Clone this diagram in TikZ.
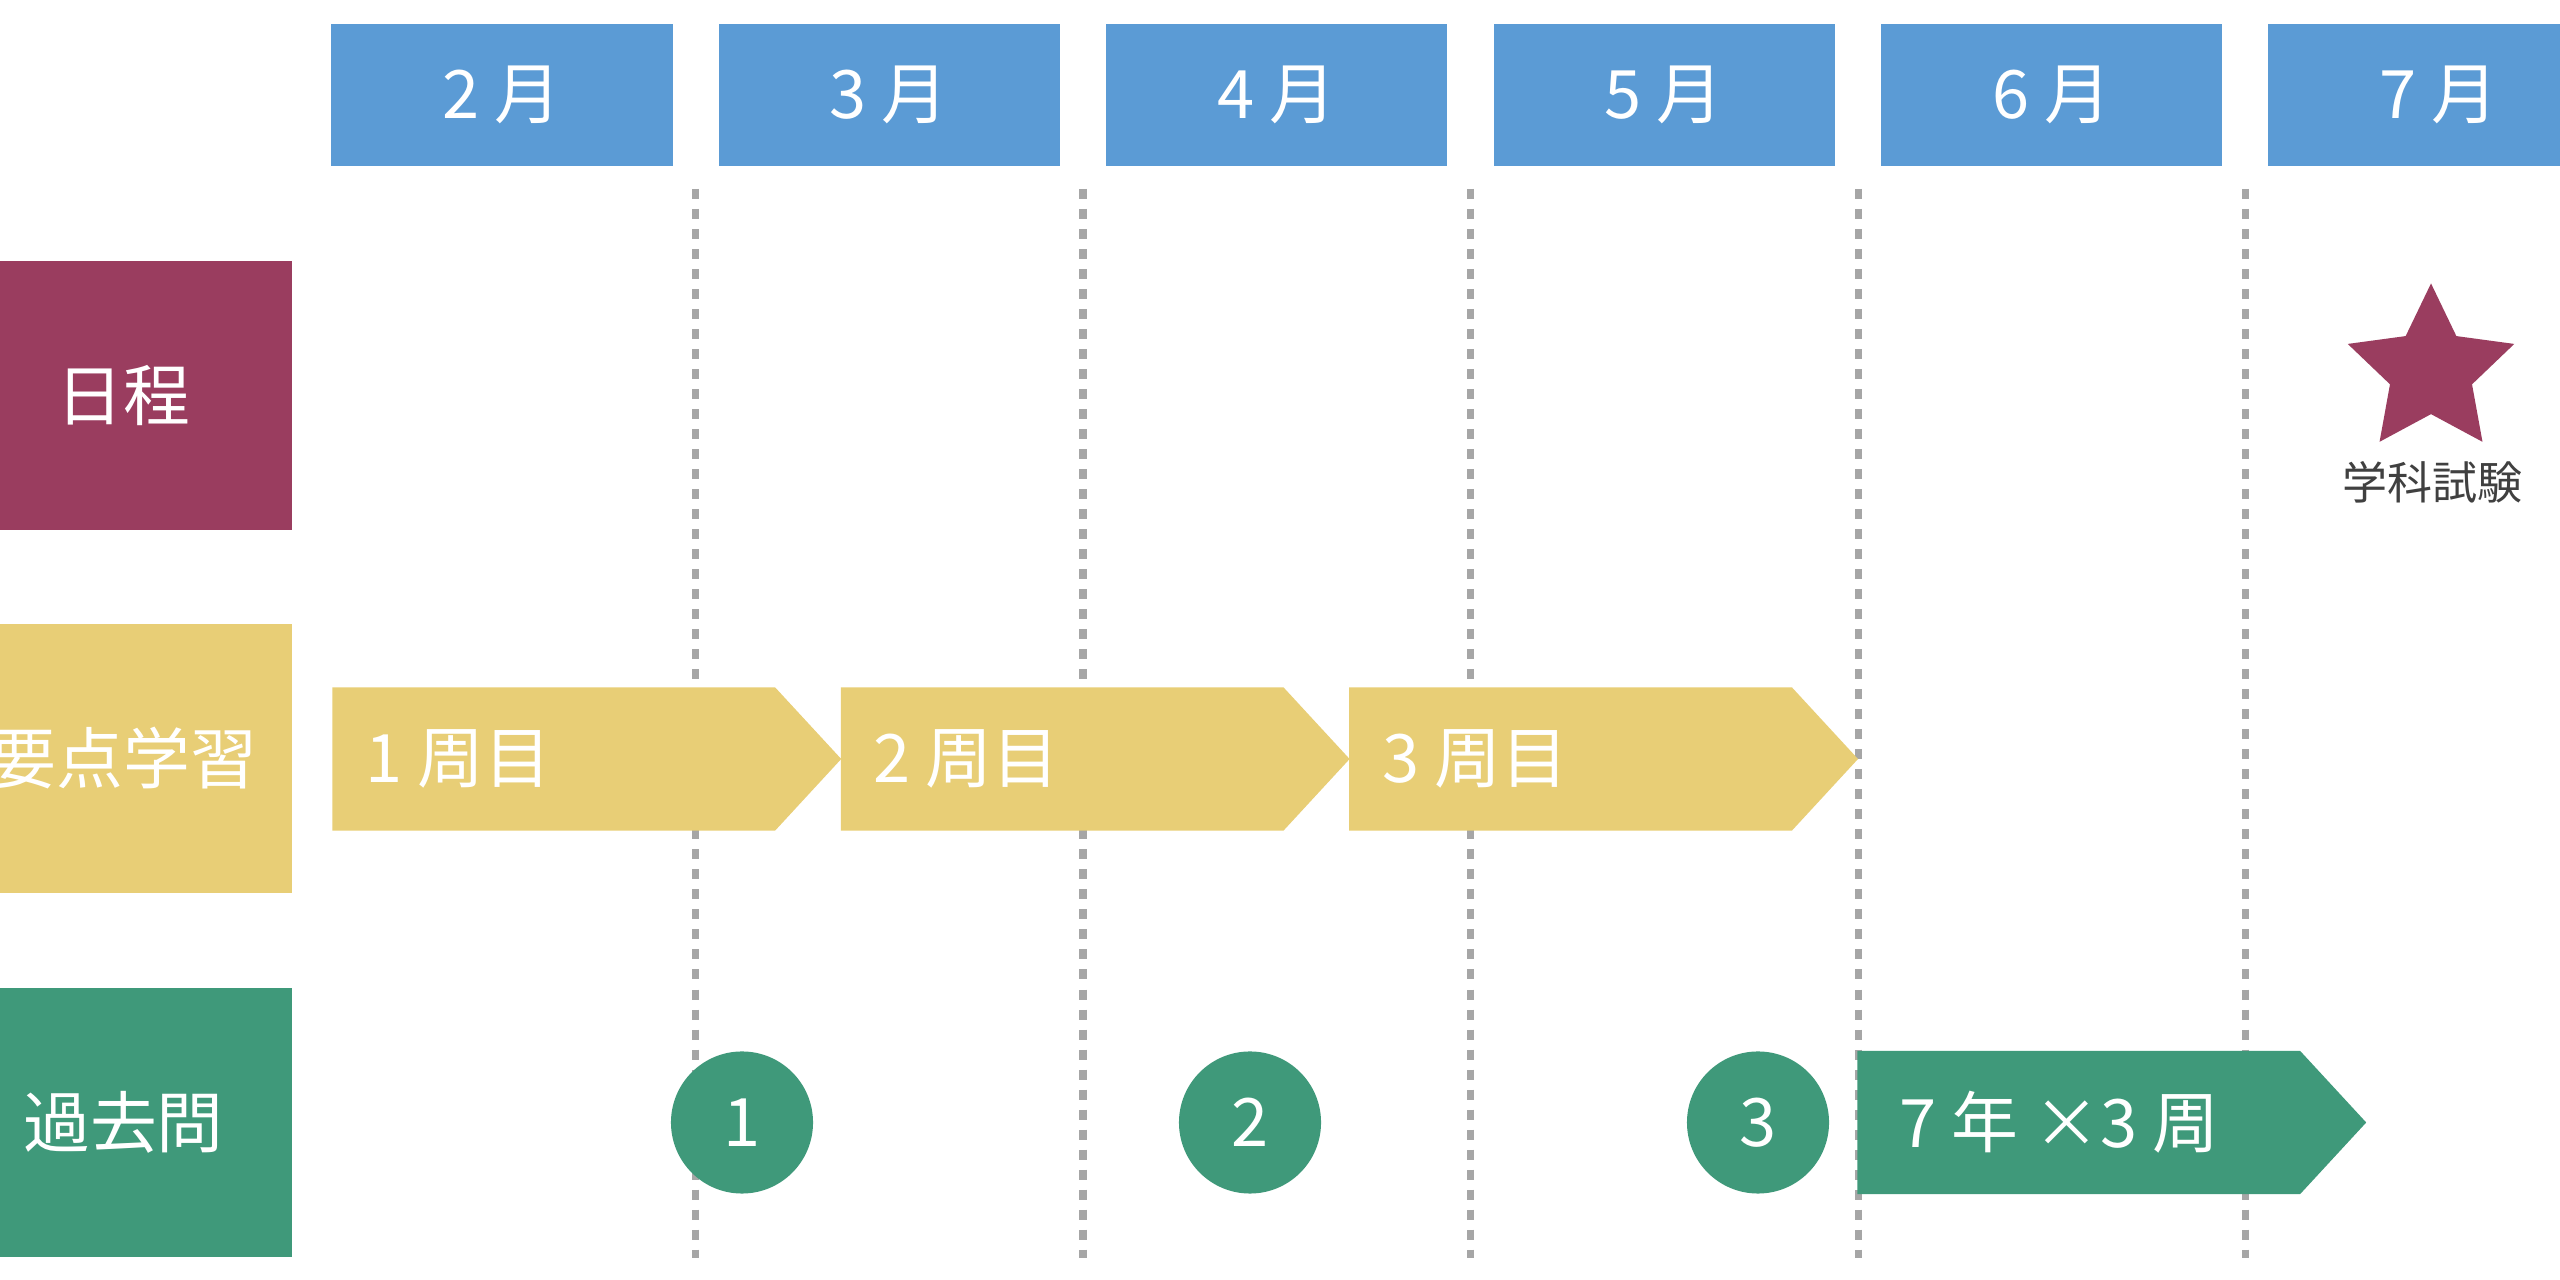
\documentclass[tikz,border=0pt]{standalone}
\usepackage{fontspec}
\setmainfont{Noto Sans CJK JP}
\usetikzlibrary{shapes.symbols,shapes.geometric}

\definecolor{monthblue}{HTML}{5B9BD5}
\definecolor{plancolor}{HTML}{9A3D5F}
\definecolor{studycolor}{HTML}{E8CE76}
\definecolor{pastcolor}{HTML}{3F997A}
\definecolor{sepgray}{HTML}{A6A6A6}
\definecolor{examgray}{HTML}{404040}

\begin{document}
\begin{tikzpicture}[x=0.01cm, y=-0.01cm,
            month/.style={rectangle, fill=monthblue, minimum width=3.41cm, minimum height=1.42cm, inner sep=0, text=white, font=\fontsize{19}{19}\selectfont},
            rowhead/.style={rectangle, minimum width=3.37cm, minimum height=2.69cm, inner sep=0, text=white, font=\fontsize{19}{19}\selectfont},
            lap/.style={signal, signal to=east, signal pointer angle=94.6, minimum width=5.085cm, minimum height=1.43cm, inner sep=0},
            laptext/.style={anchor=west, inner sep=0, text=white, font=\fontsize{19}{19}\selectfont},
            pastround/.style={circle, fill=pastcolor, minimum size=1.42cm, inner sep=0, text=white, font=\fontsize{19}{19}\selectfont},
            monthsep/.style={sepgray, line width=2pt, dash pattern=on 0.1cm off 0.1cm}
        ]
            \useasboundingbox (0,0) rectangle (2560,1280);
            \fill[white] (0,0) rectangle (2560,1280);

            % month separators
            \foreach \x in {695.6,1083,1470.5,1858,2245.5}
                \draw[monthsep] (\x,189) -- (\x,1258);

            \foreach \m [count=\i] in {2,3,4,5,6,7}
                \node[month] (m\i) at ({502+(\i-1)*387.4},95) {\m{} 月};

            \node[rowhead, fill=plancolor] (plan) at (123.5,395.5) {日程};
            \node[rowhead, fill=studycolor] (study) at (123.5,758.5) {要点学習};
            \node[rowhead, fill=pastcolor] (past) at (123.5,1122.5) {過去問};

            % exam day
            \node[star, star points=5, star point ratio=2.03, fill=plancolor, minimum size=1.75cm, inner sep=0] (exam) at (2431,371) {};
            \node[inner sep=0, text=examgray, font=\fontsize{12.8}{13}\selectfont] (examtext) at (2432,482) {学科試験};

            % three laps
            \foreach \n [count=\i] in {1,2,3} {
                \node[lap, fill=studycolor, anchor=west] (lap\i) at ({331.7+(\i-1)*508.4},759) {};
                \node[laptext] (lapt\i) at ([xshift=0.33cm]lap\i.west) {\n{} 周目};
            }

            \foreach \n [count=\i] in {1,2,3}
                \node[pastround] (c\i) at ({742+(\i-1)*508},1122.5) {\n};

            \node[lap, fill=pastcolor, anchor=west] (drill) at (1856.7,1122.5) {};
            \node[laptext] (drillt) at ([xshift=0.42cm]drill.west) {7 年 ×3 周};
        \end{tikzpicture}
\end{document}
